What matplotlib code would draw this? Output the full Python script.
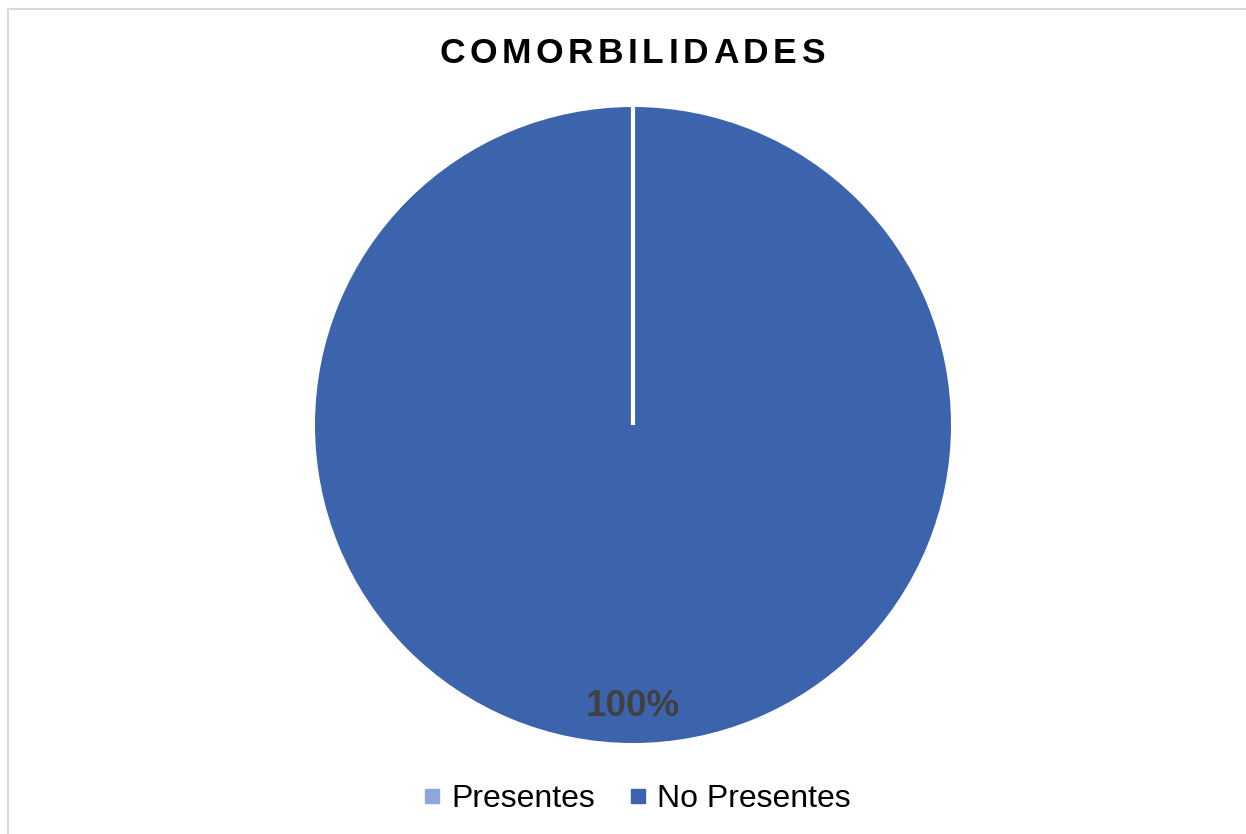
import matplotlib
matplotlib.use("Agg")
import matplotlib.pyplot as plt
from matplotlib.lines import Line2D

categories = ["Presentes", "No Presentes"]
values = [0, 100]
colors = ["#8EA6D8", "#3C64AC"]
title = "COMORBILIDADES"

plt.rcParams["font.family"] = ["Liberation Sans", "DejaVu Sans"]

W, H = 1246, 834
fig = plt.figure(figsize=(W / 100, H / 100), dpi=100)

# light grey frame around the chart area
fig.add_artist(Line2D([8 / W, 8 / W], [0, 1 - 9 / H], color="#D9D9D9", lw=1.5))
fig.add_artist(Line2D([8 / W, 1], [1 - 9 / H, 1 - 9 / H], color="#D9D9D9", lw=1.5))

cx, cy, r = 633, H - 425, 318
ax = fig.add_axes([(cx - r) / W, (cy - r) / H, 2 * r / W, 2 * r / H])

wedges, texts, autotexts = ax.pie(
    values,
    colors=colors,
    startangle=90,
    counterclock=False,
    autopct=lambda p: f"{p:.0f}%" if p >= 0.5 else "",
    pctdistance=0.885,
    textprops=dict(fontsize=26.5, fontweight="bold", color="#404040"),
)
# empty slice shows up as a white divider on top
wedges[0].set_edgecolor("white")
wedges[0].set_linewidth(3)
wedges[0].set_joinstyle("bevel")
wedges[0].set_zorder(5)
for a in autotexts:
    a.set_zorder(6)
ax.set_xlim(-1, 1)
ax.set_ylim(-1, 1)

# letter-spaced bold title
renderer = fig.canvas.get_renderer()
spacing = 4.5
letters = []
for ch in title:
    t = fig.text(0, 0, ch, fontsize=25.5, fontweight="bold", color="black",
                 va="baseline", ha="left")
    letters.append((t, t.get_window_extent(renderer).width))
total = sum(w for _, w in letters) + spacing * (len(letters) - 1)
x = 632 - total / 2
for t, w in letters:
    t.set_position((x / W, (H - 63) / H))
    x += w + spacing

handles = [Line2D([], [], marker="s", linestyle="none", markersize=9.5,
                  markerfacecolor=c, markeredgecolor=c) for c in colors]
fig.legend(handles, categories, loc="center", bbox_to_anchor=(636 / W, (H - 799) / H),
           ncol=2, frameon=False, fontsize=23, handlelength=0.7,
           handletextpad=0.25, columnspacing=1.0)

fig.savefig("out.png", dpi=100, facecolor="white")
